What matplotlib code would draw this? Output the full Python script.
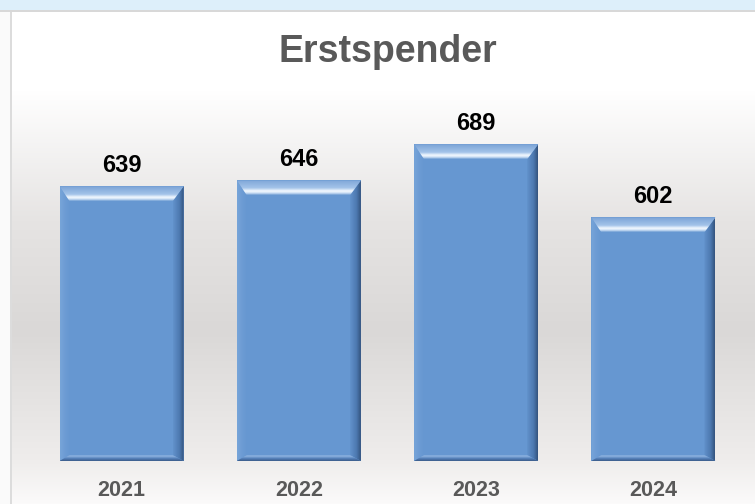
import numpy as np
import matplotlib.pyplot as plt
from matplotlib.patches import Polygon
from matplotlib.colors import LinearSegmentedColormap, to_rgb

# data
years = ['2021', '2022', '2023', '2024']
donors = [639, 646, 689, 602]
title = 'Erstspender'

plt.rcParams['font.family'] = ['Liberation Sans', 'DejaVu Sans']

W, H = 755, 504
fig = plt.figure(figsize=(W / 100, H / 100), dpi=100)


def vgrad(stops, n):
    """column of colours from (row, colour) stops"""
    pos = np.array([s[0] for s in stops], dtype=float)
    cols = np.array([to_rgb(s[1]) for s in stops])
    rows = np.arange(n)
    return np.stack([np.interp(rows, pos, cols[:, k]) for k in range(3)], axis=1)


# background: blue strip on top, white -> grey -> white gradient below
bg = fig.add_axes([0, 0, 1, 1], zorder=0)
bg.set_axis_off()
col = vgrad([(0, '#ffffff'), (90, '#ffffff'), (220, '#e6e4e3'), (330, '#dad8d7'),
             (460, '#efedec'), (503, '#fbfafa')], H)
img = np.repeat(col[:, None, :], W, axis=1)
img[:10, :, :] = to_rgb('#ddeffa')
img[10:12, :, :] = to_rgb('#d8d8d8')
img[12:, :10, :] = to_rgb('#fafafa')
img[12:, 10:12, :] = to_rgb('#dcdcdc')
bg.imshow(img, extent=(0, W, H, 0), aspect='auto', interpolation='bilinear')
bg.set_xlim(0, W)
bg.set_ylim(H, 0)

# bar axes (value axis does not start at zero)
ymin, ymax = 312, 800
ax = fig.add_axes([33 / W, 43 / H, 709 / W, 410 / H], zorder=1)
ax.set_axis_off()
ax.set_xlim(-0.5, len(years) - 0.5)
ax.set_ylim(ymin, ymax)
ax.set_autoscale_on(False)

x = np.arange(len(years))
bars = ax.bar(x, np.array(donors) - ymin, bottom=ymin, width=0.70,
              color='#6697d1', edgecolor='none', zorder=2)

# pixel -> data units
px_x = len(years) / 709.0
px_y = (ymax - ymin) / 410.0


def grad_fill(pts, stops, vertical, z=3):
    poly = Polygon(pts, closed=True, facecolor='none', edgecolor='none')
    ax.add_patch(poly)
    cmap = LinearSegmentedColormap.from_list('g', stops)
    arr = np.linspace(0, 1, 256)
    arr = arr.reshape(-1, 1) if vertical else arr.reshape(1, -1)
    xs = [p[0] for p in pts]
    ys = [p[1] for p in pts]
    im = ax.imshow(arr, cmap=cmap, extent=(min(xs), max(xs), min(ys), max(ys)),
                   origin='lower', aspect='auto', interpolation='bilinear', zorder=z)
    im.set_clip_path(poly)


# bevel edges
t, b, l, r = 15 * px_y, 6 * px_y, 10 * px_x, 11 * px_x
for bar in bars:
    x0, x1 = bar.get_x(), bar.get_x() + bar.get_width()
    y0, y1 = bar.get_y(), bar.get_y() + bar.get_height()
    # left
    grad_fill([(x0, y0), (x0, y1), (x0 + l, y1 - t), (x0 + l, y0 + b)],
              [(0, '#78a5d9'), (0.5, '#6d9cd4'), (1, '#6697d1')], False)
    # right
    grad_fill([(x1, y1), (x1, y0), (x1 - r, y0 + b), (x1 - r, y1 - t)],
              [(0, '#6292cc'), (0.6, '#4d79b0'), (1, '#33527c')], False)
    # bottom
    grad_fill([(x0, y0), (x1, y0), (x1 - r, y0 + b), (x0 + l, y0 + b)],
              [(0, '#3a5b88'), (0.45, '#5682bb'), (0.8, '#8cb1df'), (1, '#7aa5d9')], True)
    # top
    grad_fill([(x0, y1), (x1, y1), (x1 - r, y1 - t), (x0 + l, y1 - t)],
              [(0, '#6a9ad2'), (0.12, '#c9ddf3'), (0.25, '#f5faff'),
               (0.45, '#a3c3e9'), (1, '#7aa3d6')], True)

# value labels and year labels
for i, v in enumerate(donors):
    ax.annotate(str(v), (i, v), xytext=(0, 10.5), textcoords='offset points',
                ha='center', va='baseline', fontsize=17, fontweight='bold',
                color='black', zorder=5)
    ax.annotate(years[i], (i, ymin), xytext=(0, -25.2), textcoords='offset points',
                ha='center', va='baseline', fontsize=15.5, fontweight='bold',
                color='#595959', annotation_clip=False, zorder=5)

fig.text(388 / W, (H - 62) / H, title, ha='center', va='baseline',
         fontsize=27, fontweight='bold', color='#595959')

fig.savefig('out.png', dpi=100)
